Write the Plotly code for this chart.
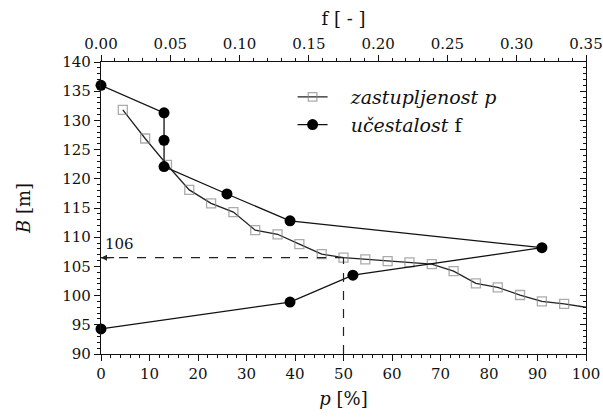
import plotly.graph_objects as go

# zastupljenost p (cumulative %) vs B
p_values = [4.5, 9.1, 13.6, 18.2, 22.7, 27.3, 31.8, 36.4, 40.9, 45.5, 50.0,
            54.5, 59.1, 63.6, 68.2, 72.7, 77.3, 81.8, 86.4, 90.9, 95.5, 100.0]
p_B = [131.8, 126.9, 122.4, 118.1, 115.8, 114.3, 111.2, 110.5, 108.8, 107.1, 106.5,
       106.2, 105.9, 105.7, 105.4, 104.2, 102.1, 101.4, 100.1, 99.0, 98.6, 98.0]

# učestalost f vs B
f_values = [0.0, 0.0455, 0.0455, 0.0455, 0.0909, 0.1364, 0.3182, 0.1818, 0.1364, 0.0]
f_B = [136.0, 131.3, 126.6, 122.1, 117.4, 112.8, 108.2, 103.5, 98.9, 94.3]

ref_p = 50
ref_B = 106.5
ref_label = "106"

FONT = "DejaVu Serif, Liberation Serif, serif"
SP = "\u00a0\u00a0\u00a0"

fig = go.Figure()

fig.add_trace(go.Scatter(
    x=p_values, y=p_B, mode="lines+markers",
    name=SP + "<i>zastupljenost p</i>",
    line=dict(color="#222", width=1.3),
    marker=dict(symbol="square-open", size=[9] * (len(p_values) - 1) + [0],
                color="#888", line=dict(width=1.3, color="#888")),
    cliponaxis=True,
))
fig.add_trace(go.Scatter(
    x=f_values, y=f_B, mode="lines+markers",
    name=SP + "<i>učestalost</i> f",
    xaxis="x2", yaxis="y2",
    line=dict(color="#111", width=1.3),
    marker=dict(symbol="circle", size=11, color="#000"),
    cliponaxis=False,
))

# dashed guide lines
fig.add_shape(type="line", x0=0, x1=ref_p, y0=ref_B, y1=ref_B, xref="x", yref="y",
              line=dict(color="#222", width=1.2, dash="dash"))
fig.add_shape(type="line", x0=ref_p, x1=ref_p, y0=90, y1=ref_B, xref="x", yref="y",
              line=dict(color="#222", width=1.2, dash="dash"))
fig.add_annotation(x=0, y=ref_B, ax=3, ay=ref_B, xref="x", yref="y", axref="x", ayref="y",
                   text="", showarrow=True, arrowhead=2, arrowsize=1, arrowwidth=1.2,
                   arrowcolor="#222", standoff=0)
fig.add_annotation(x=0.4, y=ref_B + 0.4, xref="x", yref="y", text=ref_label, showarrow=False,
                   xanchor="left", yanchor="bottom", font=dict(family=FONT, size=15, color="#111"))

axis_common = dict(showgrid=False, zeroline=False, showline=True, linecolor="#111",
                   linewidth=1.3, ticks="outside", tickcolor="#111", ticklen=6,
                   automargin=False,
                   tickfont=dict(family=FONT, size=15, color="#111"))

fig.update_layout(
    width=603, height=417,
    margin=dict(l=101, r=17, t=62, b=63),
    paper_bgcolor="white", plot_bgcolor="white",
    showlegend=True,
    legend=dict(x=0.395, y=0.945, xanchor="left", yanchor="top",
                bgcolor="rgba(0,0,0,0)", font=dict(family=FONT, size=19, color="#111"),
                tracegroupgap=0, itemwidth=30),
    xaxis=dict(range=[0, 100], dtick=10, tick0=0,
               minor=dict(dtick=2, ticks="outside", ticklen=3, tickcolor="#111"),
               title=dict(text="<i>p</i> [%]", font=dict(family=FONT, size=18, color="#111"),
                          standoff=10),
               **axis_common),
    xaxis2=dict(range=[0, 0.35], dtick=0.05, tick0=0, overlaying="x", side="top",
                tickformat=".2f", anchor="y",
                minor=dict(dtick=0.01, ticks="outside", ticklen=3, tickcolor="#111"),
                title=dict(text="f [ - ]", font=dict(family=FONT, size=18, color="#111"),
                           standoff=4),
                **axis_common),
    yaxis=dict(range=[90, 140], dtick=5, tick0=90,
               minor=dict(dtick=1, ticks="outside", ticklen=3, tickcolor="#111"),
               title=dict(text="<i>B</i> [m]", font=dict(family=FONT, size=18, color="#111"),
                          standoff=26),
               **axis_common),
    yaxis2=dict(range=[90, 140], dtick=5, tick0=90, overlaying="y", side="right",
                anchor="x", showticklabels=False, showgrid=False, zeroline=False,
                showline=True, linecolor="#111", linewidth=1.3, automargin=False,
                ticks="inside", ticklen=6, tickcolor="#111",
                minor=dict(dtick=1, ticks="inside", ticklen=3, tickcolor="#111")),
)

fig.write_html("out.html",
               config={"displayModeBar": False},
               post_script="document.body.style.margin='0';document.body.style.overflow='hidden';")
